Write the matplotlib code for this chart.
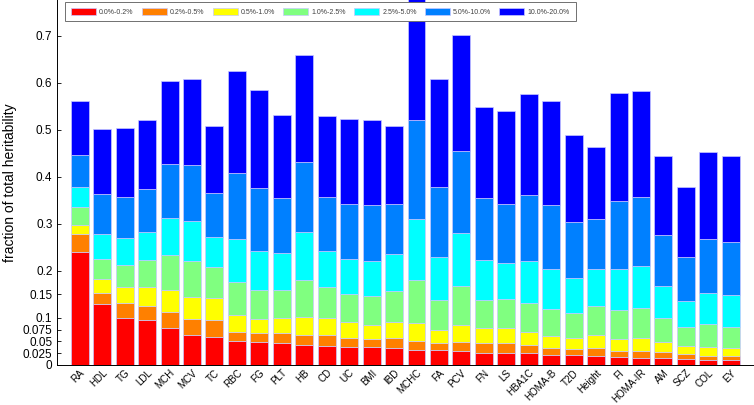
import numpy as np
import matplotlib
matplotlib.use('Agg')
import matplotlib.pyplot as plt
from matplotlib.transforms import ScaledTranslation

plt.rcParams['font.family'] = ['Liberation Sans', 'DejaVu Sans']

# traits on the x axis
traits = ['RA', 'HDL', 'TG', 'LDL', 'MCH', 'MCV', 'TC', 'RBC', 'FG', 'PLT',
          'HB', 'CD', 'UC', 'BMI', 'IBD', 'MCHC', 'FA', 'PCV', 'FN', 'LS',
          'HBA1C', 'HOMA-B', 'T2D', 'Height', 'FI', 'HOMA-IR', 'AM', 'SCZ',
          'COL', 'EY']

# cumulative fraction of heritability up to the top of each bin
top_0_02 = [0.240, 0.130, 0.100, 0.096, 0.079, 0.064, 0.060, 0.051, 0.049, 0.047,
            0.043, 0.040, 0.038, 0.038, 0.036, 0.032, 0.032, 0.030, 0.026, 0.026,
            0.026, 0.021, 0.021, 0.019, 0.017, 0.015, 0.015, 0.013, 0.011, 0.011]
top_02_05 = [0.278, 0.153, 0.132, 0.125, 0.113, 0.098, 0.096, 0.070, 0.068, 0.068,
             0.064, 0.064, 0.057, 0.055, 0.057, 0.051, 0.047, 0.049, 0.047, 0.047,
             0.043, 0.036, 0.034, 0.036, 0.030, 0.030, 0.028, 0.023, 0.019, 0.019]
top_05_10 = [0.298, 0.183, 0.165, 0.165, 0.159, 0.145, 0.142, 0.106, 0.098, 0.100,
             0.102, 0.100, 0.091, 0.085, 0.091, 0.089, 0.074, 0.085, 0.079, 0.079,
             0.070, 0.062, 0.057, 0.064, 0.055, 0.057, 0.049, 0.040, 0.038, 0.036]
top_10_25 = [0.335, 0.225, 0.212, 0.223, 0.233, 0.220, 0.208, 0.176, 0.159, 0.159,
             0.181, 0.166, 0.151, 0.147, 0.157, 0.181, 0.138, 0.168, 0.138, 0.140,
             0.132, 0.119, 0.111, 0.125, 0.117, 0.121, 0.100, 0.081, 0.087, 0.081]
top_25_50 = [0.379, 0.278, 0.269, 0.283, 0.313, 0.305, 0.271, 0.267, 0.243, 0.237,
             0.282, 0.242, 0.225, 0.220, 0.235, 0.310, 0.229, 0.280, 0.223, 0.216,
             0.220, 0.203, 0.184, 0.203, 0.203, 0.210, 0.168, 0.136, 0.152, 0.149]
top_50_100 = [0.446, 0.364, 0.358, 0.374, 0.427, 0.425, 0.366, 0.408, 0.376, 0.354,
              0.432, 0.358, 0.343, 0.339, 0.343, 0.521, 0.378, 0.455, 0.354, 0.343,
              0.362, 0.339, 0.303, 0.311, 0.349, 0.358, 0.276, 0.229, 0.267, 0.261]
top_100_200 = [0.561, 0.501, 0.503, 0.520, 0.603, 0.609, 0.507, 0.626, 0.585, 0.531,
               0.658, 0.529, 0.523, 0.520, 0.507, 0.800, 0.609, 0.702, 0.549, 0.541,
               0.577, 0.561, 0.488, 0.463, 0.579, 0.583, 0.444, 0.378, 0.452, 0.444]

bins = ['0.0%-0.2%', '0.2%-0.5%', '0.5%-1.0%', '1.0%-2.5%', '2.5%-5.0%',
        '5.0%-10.0%', '10.0%-20.0%']
colors = ['#ff0000', '#ff8000', '#ffff00', '#80ff80', '#00ffff', '#0080ff', '#0000ff']

yticks = [0, 0.025, 0.05, 0.075, 0.1, 0.15, 0.2, 0.3, 0.4, 0.5, 0.6, 0.7]

tops = np.array([top_0_02, top_02_05, top_05_10, top_10_25, top_25_50,
                 top_50_100, top_100_200])

fig = plt.figure(figsize=(7.54, 4.05), dpi=100)
ax = fig.add_axes([0.076, 0.099, 0.923, 0.901])

x = np.arange(1, len(traits) + 1)
bottom = np.zeros(len(traits))
for i in range(len(bins)):
    ax.bar(x, tops[i] - bottom, 0.8, bottom=bottom, color=colors[i],
           edgecolor='#c8c8ff', linewidth=0.5, label=bins[i])
    bottom = tops[i]

ax.set_xlim(0, len(traits) + 1)
ax.set_ylim(0, 0.776)
ax.set_yticks(yticks)
ax.set_yticklabels([('%g' % v) for v in yticks], fontsize=8.5)
ax.set_xticks(x)
ax.set_xticklabels(traits, rotation=45, ha='right', va='top', fontsize=7.1,
                   rotation_mode='anchor')
# shift the rotated labels a bit to the right, like the original
shift = ScaledTranslation(7 / 100, 0, fig.dpi_scale_trans)
for lab in ax.get_xticklabels():
    lab.set_transform(lab.get_transform() + shift)
ax.tick_params(axis='x', length=0, pad=2)
ax.tick_params(axis='y', direction='in', length=3, width=0.6)
ax.spines['top'].set_visible(False)
ax.spines['right'].set_visible(False)
ax.spines['left'].set_linewidth(0.7)
ax.spines['bottom'].set_linewidth(0.7)
ax.set_ylabel('fraction of total heritability', fontsize=10, labelpad=4)

leg = ax.legend(ncol=7, loc='upper left', bbox_to_anchor=(0.0115, 0.994),
                fontsize=5.0, frameon=True, fancybox=False, framealpha=1,
                edgecolor='#707070', handlelength=3.6, handleheight=1.15,
                columnspacing=1.15, handletextpad=0.48, borderpad=0.8,
                borderaxespad=0)
leg.get_frame().set_linewidth(0.7)
for t in leg.get_texts():
    t.set_color('#404040')

fig.savefig('out.png', dpi=100)
